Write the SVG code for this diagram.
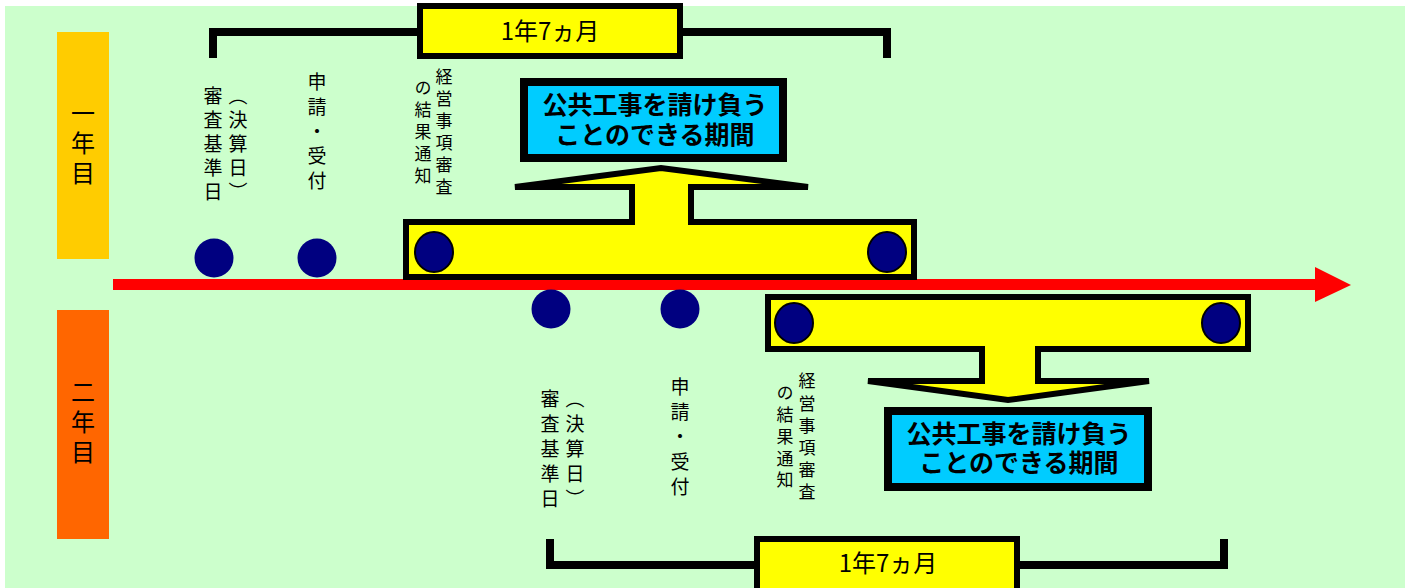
<svg xmlns="http://www.w3.org/2000/svg" width="1410" height="588" viewBox="0 0 1410 588">
<style>
.jp{font-family:"Noto Sans CJK JP","Noto Sans CJK SC",sans-serif;fill:#000;text-anchor:middle}
.v{writing-mode:vertical-rl;text-anchor:start}
.lbl{font-size:19px}
.lbl2{font-size:17px}
.yr{font-size:24px}
.per{font-size:24px}
.big{font-size:25px;font-weight:bold}
.bar{fill:#FFFF00;stroke:#000;stroke-width:6;stroke-linejoin:miter;stroke-miterlimit:4}
.dot{fill:#000080}
.bdot{fill:#000080;stroke:#000;stroke-width:2}
.blue{fill:#00CCFF;stroke:#000;stroke-width:8}
.ybox{fill:#FFFF00;stroke:#000;stroke-width:6}
.brk{fill:none;stroke:#000;stroke-width:8;stroke-linejoin:miter}
</style>
<rect x="0" y="0" width="1410" height="588" fill="#FFFFFF"/>
<rect x="5" y="6" width="1400" height="582" fill="#CCFFCC"/>

<g id="year1">
<rect x="57" y="32" width="52" height="227" fill="#FFCC00"/>
<text class="jp v yr" x="83" y="101" letter-spacing="6">一年目</text>
</g>
<g id="year2">
<rect x="57" y="310" width="52" height="229" fill="#FF6600"/>
<text class="jp v yr" x="83" y="380" letter-spacing="6">二年目</text>
</g>

<g id="connectors">
<rect x="113" y="279" width="1203" height="11" fill="#FF0000"/>
<polygon points="1315,267 1351,285 1315,302" fill="#FF0000"/>
<path class="brk" d="M213,58 V32 H887 V58"/>
<path class="brk" d="M550,539 V565 H1224 V539"/>
</g>

<g id="period1">
<rect class="ybox" x="420" y="6" width="260" height="50"/>
<text class="jp per" x="550" y="40">1年7ヵ月</text>
</g>
<g id="period2">
<rect class="ybox" x="757" y="539" width="260" height="60"/>
<text class="jp per" x="888" y="572">1年7ヵ月</text>
</g>

<g id="bar1">
<path class="bar" d="M406,222 L632,222 L632,187 L515,187 L661,168 L808,187 L691,187 L691,222 L914,222 L914,277 L406,277 Z"/>
<ellipse class="bdot" cx="434" cy="252" rx="19" ry="20"/>
<ellipse class="bdot" cx="887" cy="252" rx="19" ry="20"/>
</g>
<g id="bar2">
<path class="bar" d="M768,297 L1248,297 L1248,349 L1038,349 L1038,381 L1149,381 L1008,400 L868,381 L982,381 L982,349 L768,349 Z"/>
<ellipse class="bdot" cx="794" cy="323" rx="19" ry="20"/>
<ellipse class="bdot" cx="1221" cy="323" rx="19" ry="20"/>
</g>

<g id="box1">
<rect class="blue" x="524" y="82" width="259" height="76"/>
<text class="jp big"><tspan x="655" y="114">公共工事を請け負う</tspan><tspan x="655" y="144">ことのできる期間</tspan></text>
</g>
<g id="box2">
<rect class="blue" x="888" y="411" width="260" height="76"/>
<text class="jp big"><tspan x="1019" y="443">公共工事を請け負う</tspan><tspan x="1019" y="472">ことのできる期間</tspan></text>
</g>

<g id="dot1a"><circle class="dot" cx="214" cy="258" r="19.5"/></g>
<g id="dot1b"><circle class="dot" cx="317" cy="258" r="19.5"/></g>
<g id="dot2a"><circle class="dot" cx="551" cy="309" r="19.5"/></g>
<g id="dot2b"><circle class="dot" cx="680" cy="309" r="19.5"/></g>

<g id="label1a">
<text class="jp v lbl" x="213" y="86.5" letter-spacing="5">審査基準日</text>
<text class="jp v lbl" x="238" y="86.5" letter-spacing="5">（決算日）</text>
</g>
<g id="label1b">
<text class="jp v lbl" x="317" y="72.5" letter-spacing="5.75">申請・受付</text>
</g>
<g id="label1c">
<text class="jp v lbl2" x="444" y="68.5" letter-spacing="5">経営事項審査</text>
<text class="jp v lbl2" x="423" y="79.5" letter-spacing="5">の結果通知</text>
</g>

<g id="label2a">
<text class="jp v lbl" x="550" y="389.5" letter-spacing="6">審査基準日</text>
<text class="jp v lbl" x="575" y="389.5" letter-spacing="6">（決算日）</text>
</g>
<g id="label2b">
<text class="jp v lbl" x="680" y="377.5" letter-spacing="6">申請・受付</text>
</g>
<g id="label2c">
<text class="jp v lbl2" x="807" y="372.5" letter-spacing="5.2">経営事項審査</text>
<text class="jp v lbl2" x="785" y="384.5" letter-spacing="4.75">の結果通知</text>
</g>
</svg>
